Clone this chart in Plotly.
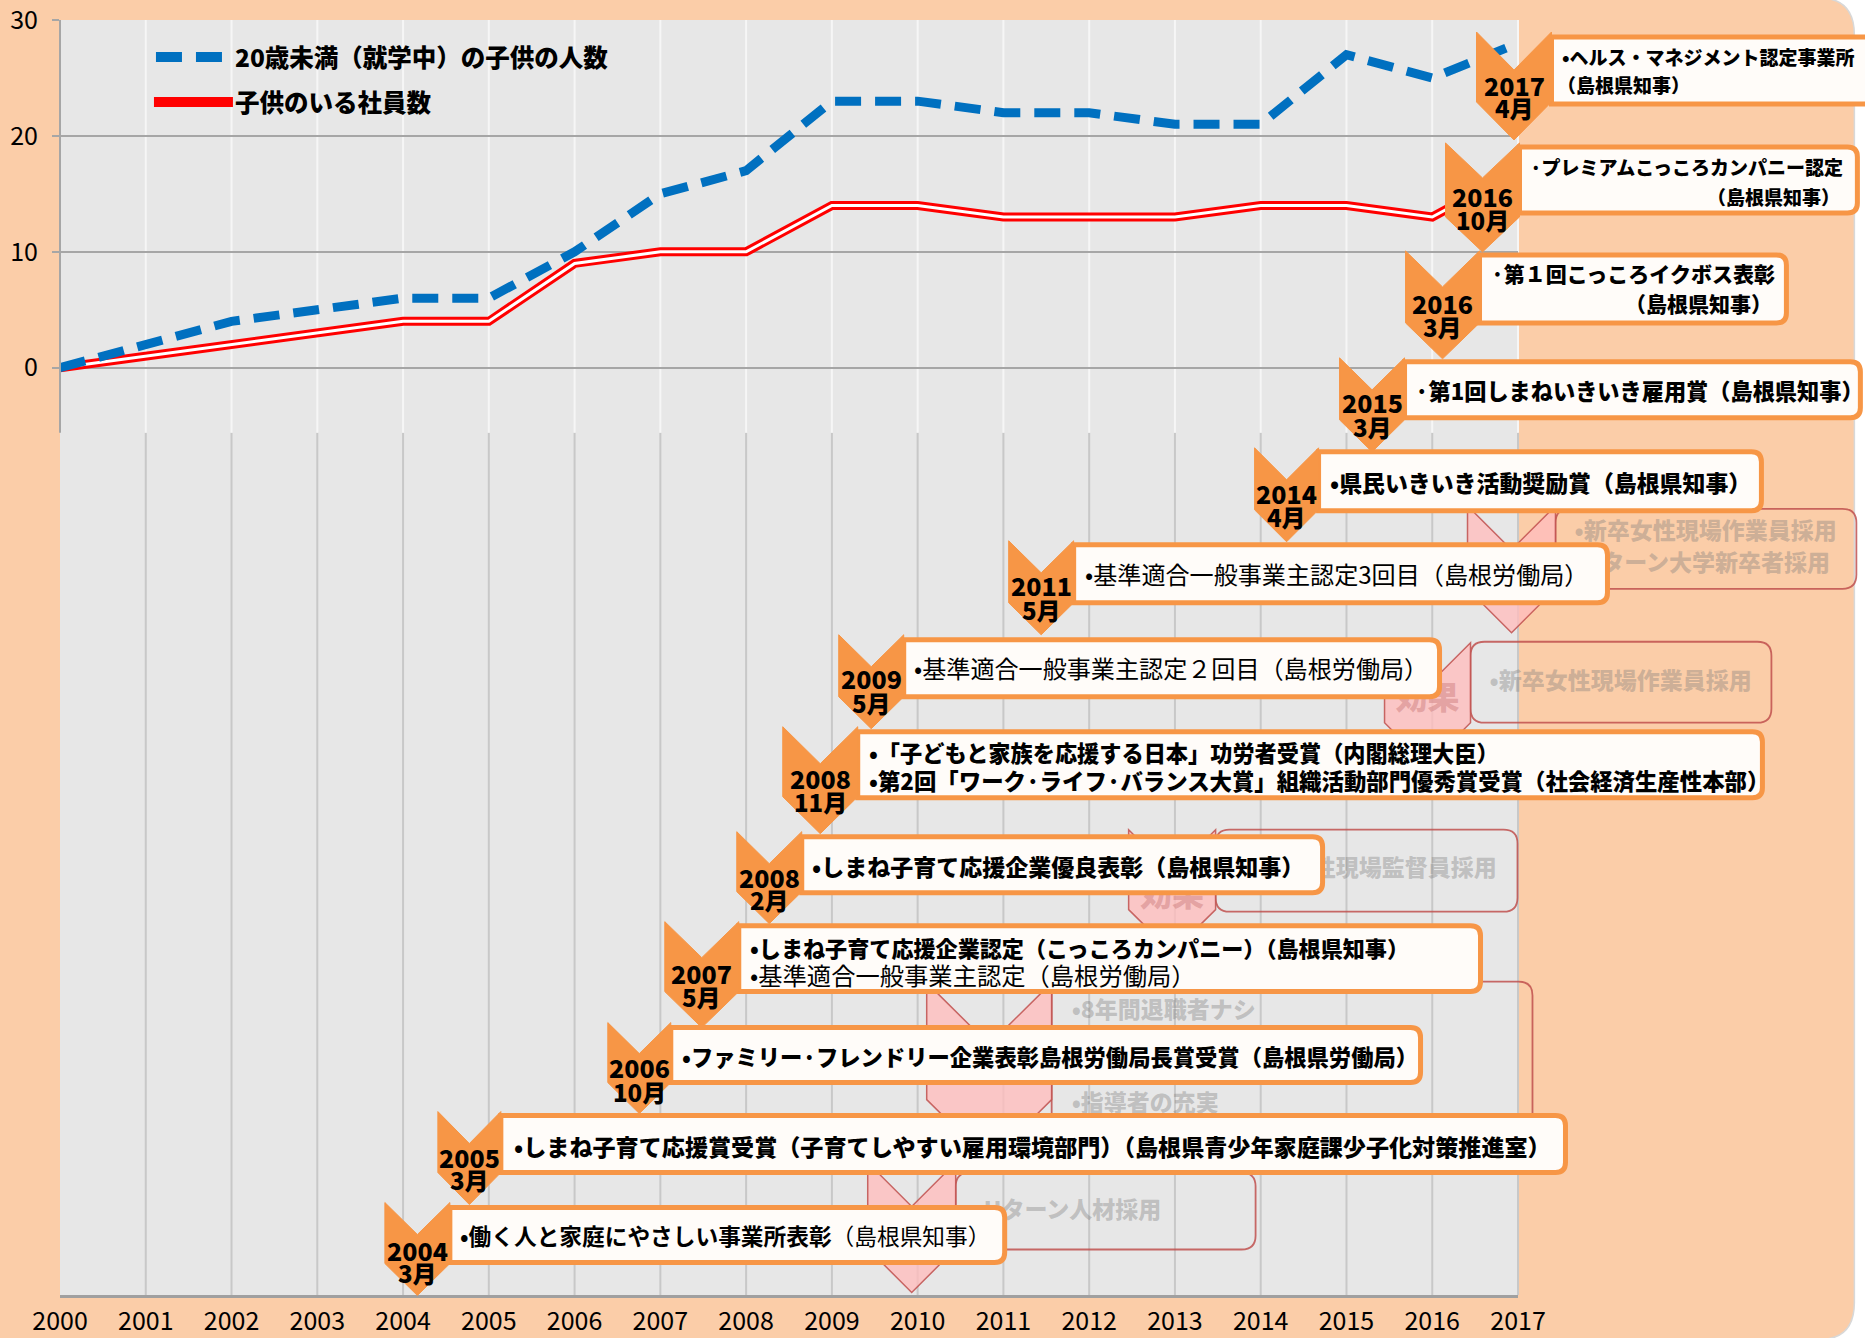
import plotly.graph_objects as go

# ---------------- data ----------------
years = list(range(2000, 2018))
children_under_20 = [0, 2, 4, 5, 6, 6, 10, 15, 17, 23, 23, 22, 22, 21, 21, 27, 25, 28]
employees_with_children = [0, 1, 2, 3, 4, 4, 9, 10, 10, 14, 14, 13, 13, 13, 14, 14, 13, 17]
y_tick_values = [0, 10, 20, 30]
x_tick_labels = [str(y) for y in years]
series_names = ["20歳未満（就学中）の子供の人数", "子供のいる社員数"]

award_year_labels = ["2017", "2016", "2016", "2015", "2014", "2011", "2009",
                     "2008", "2008", "2007", "2006", "2005", "2004"]
award_month_labels = ["4月", "10月", "3月", "3月", "4月", "5月", "5月",
                      "11月", "2月", "5月", "10月", "3月", "3月"]
award_lines = [
    ["•ヘルス・マネジメント認定事業所", "（島根県知事）"],
    ["·プレミアムこっころカンパニー認定", "（島根県知事）"],
    ["·第１回こっころイクボス表彰", "（島根県知事）"],
    ["·第1回しまねいきいき雇用賞（島根県知事）"],
    ["•県民いきいき活動奨励賞（島根県知事）"],
    ["•基準適合一般事業主認定3回目（島根労働局）"],
    ["•基準適合一般事業主認定２回目（島根労働局）"],
    ["•「子どもと家族を応援する日本」功労者受賞（内閣総理大臣）",
     "•第2回「ワーク·ライフ·バランス大賞」組織活動部門優秀賞受賞（社会経済生産性本部）"],
    ["•しまね子育て応援企業優良表彰（島根県知事）"],
    ["•しまね子育て応援企業認定（こっころカンパニー）（島根県知事）",
     "•基準適合一般事業主認定（島根労働局）"],
    ["•ファミリー·フレンドリー企業表彰島根労働局長賞受賞（島根県労働局）"],
    ["•しまね子育て応援賞受賞（子育てしやすい雇用環境部門）（島根県青少年家庭課少子化対策推進室）"],
    ["•働く人と家庭にやさしい事業所表彰", "（島根県知事）"],
]

effect_label = "効果"
effect_lines = [
    ["•新卒女性現場作業員採用", "•Uターン大学新卒者採用"],
    ["•新卒女性現場作業員採用"],
    ["•新卒女性現場監督員採用"],
    ["•8年間退職者ナシ", "•指導者の充実"],
    ["•Uターン人材採用"],
]

# ---------------- layout geometry (pixels) ----------------
FIG_W, FIG_H = 1865, 1338
PL, PR, PT, PB = 60.0, 1518.5, 20.0, 1295.5
PW, PH = PR - PL, PB - PT
Y_MIN, Y_MAX = -80, 30
UPPER_BOTTOM = -5.6

PEACH = "#FBCDA8"
PLOT_BG = "#E7E7E7"
ORANGE = "#F79646"
BOX_FILL = "#FFFCF9"
NARROW = "Liberation Sans Narrow, Arial Narrow, Noto Sans CJK JP, sans-serif"
JP = "Noto Sans CJK JP, sans-serif"
HEAVY = 900


def fx(x):
    return (x - PL) / PW


def fy(y):
    return 1 - (y - PT) / PH


def P(x, y):
    return f"{fx(x):.6f},{fy(y):.6f}"


def poly_path(pts):
    return "M" + " L".join(P(x, y) for x, y in pts) + " Z"


def rrect_path(x0, y0, x1, y1, rl, rr):
    return (f"M{P(x0 + rl, y0)} L{P(x1 - rr, y0)} Q{P(x1, y0)} {P(x1, y0 + rr)} "
            f"L{P(x1, y1 - rr)} Q{P(x1, y1)} {P(x1 - rr, y1)} L{P(x0 + rl, y1)} "
            f"Q{P(x0, y1)} {P(x0, y1 - rl)} L{P(x0, y0 + rl)} Q{P(x0, y0)} {P(x0 + rl, y0)} Z")


def chevron_pts(L, W, T, H, D):
    C = L + W / 2
    R = L + W
    return [(L, T), (C, T + D), (R, T), (R, T + H), (C, T + H + D), (L, T + H)]


# award callouts: chevron L, W, T, H, D ; box x1, y0, y1 ; year y, month y
award_geom = [
    (1477, 75, 32, 70, 38, 1880, 37, 104, 85, 108),
    (1446, 74, 143, 74, 35, 1858, 147, 213, 196, 220),
    (1406, 74, 251, 72, 36, 1787, 255, 323, 303, 327),
    (1340, 65, 358, 62, 32, 1861, 362, 418, 402, 427),
    (1255, 64, 448, 62, 32, 1762, 452, 511, 493, 517),
    (1009, 65, 541, 62, 32, 1608, 545, 603, 585, 610),
    (839, 65, 635, 62, 32, 1440, 640, 697, 678, 703),
    (783, 75, 727, 70, 37, 1763, 732, 798, 778, 802),
    (737, 65, 832, 60, 32, 1323, 837, 893, 877, 900),
    (665, 74, 922, 70, 36, 1481, 926, 992, 973, 997),
    (608, 63, 1023, 60, 31, 1421, 1028, 1083, 1067, 1092),
    (438, 63, 1112, 61, 32, 1566, 1116, 1173, 1157, 1180),
    (385, 65, 1203, 61, 32, 1005, 1208, 1263, 1250, 1273),
]
# text line placement: (x, y, anchor, size, weight)
award_text_geom = [
    [(1561, 57, "left", 19, "b"), (1556, 85, "left", 19, "b")],
    [(1529, 167, "left", 19, "b"), (1843, 197, "right", 19, "b")],
    [(1489, 273, "left", 21, "b"), (1775, 303, "right", 21, "b")],
    [(1413, 390, "left", 22.2, "b")],
    [(1328, 482, "left", 22.9, "b")],
    [(1083, 574, "left", 24.1, "n")],
    [(912, 668, "left", 24.1, "n")],
    [(867, 752, "left", 22.2, "b"), (867, 780, "left", 22.4, "b")],
    [(810, 866, "left", 23, "b")],
    [(748, 947, "left", 22.1, "b"), (748, 975, "left", 24.3, "n")],
    [(680, 1056, "left", 22.3, "b")],
    [(512, 1146, "left", 23.1, "b")],
    [(458, 1236, "left", 22.7, "b"), (None, 1236, "inline", 22.7, "n")],
]

# effect (ghost) callouts; ly = position of the visible "効果" label (None = hidden)
effect_geom = [
    dict(L=1468, W=88, T=506, H=83, D=44, box=(1556, 509, 1857, 589), tx=1572, ty=[533, 565], ly=None),
    dict(L=1385, W=86, T=643, H=80, D=43, box=(1471, 642, 1772, 723), tx=1487, ty=[683], ly=700),
    dict(L=1129, W=87, T=830, H=80, D=43, box=(1216, 830, 1518, 912), tx=1232, ty=[870], ly=897),
    dict(L=927, W=125, T=983, H=117, D=62, box=(1052, 982, 1533, 1162), tx=1069,
         ty=[1012, 1105], ly=None),
    dict(L=868, W=88, T=1163, H=86, D=44, box=(956, 1173, 1256, 1250), tx=972, ty=[1212], ly=None),
]

fig = go.Figure()

# lines
fig.add_trace(go.Scatter(x=years, y=employees_with_children, mode="lines", name=series_names[1],
                         line=dict(color="#FF0000", width=9), showlegend=False, hoverinfo="skip"))
fig.add_trace(go.Scatter(x=years, y=employees_with_children, mode="lines", name=series_names[1],
                         line=dict(color="#FFFFFF", width=3), showlegend=False, hoverinfo="skip"))
fig.add_trace(go.Scatter(x=years, y=children_under_20, mode="lines", name=series_names[0],
                         line=dict(color="#0070C0", width=9, dash="26px,14px"),
                         showlegend=False, hoverinfo="skip"))

shapes = []
annotations = []


def ypaper(v):
    return (v - Y_MIN) / (Y_MAX - Y_MIN)


# right white margin with rounded peach corner
shapes.append(dict(type="path", xref="paper", yref="paper", layer="below",
                   path=f"M{P(1820, -2)} Q{P(1855, -2)} {P(1855, 35)} L{P(1855, 1303)} Q{P(1855, 1340)} {P(1820, 1340)} "
                        f"L{P(1870, 1345)} L{P(1870, -5)} Z",
                   fillcolor="#FFFFFF", line=dict(color="#D8D8D8", width=1.5)))

# vertical grid lines (lower gray, upper light)
for yr in years[1:]:
    xp = (yr - years[0]) / (years[-1] - years[0])
    shapes.append(dict(type="line", xref="paper", yref="paper", layer="below",
                       x0=xp, x1=xp, y0=0, y1=ypaper(UPPER_BOTTOM),
                       line=dict(color="#C8C8C8", width=2)))
    shapes.append(dict(type="line", xref="paper", yref="paper", layer="below",
                       x0=xp, x1=xp, y0=ypaper(UPPER_BOTTOM), y1=1,
                       line=dict(color="#F6F6F6", width=2)))
# left axis line of upper chart
shapes.append(dict(type="line", xref="paper", yref="paper", layer="above",
                   x0=0, x1=0, y0=ypaper(UPPER_BOTTOM), y1=1,
                   line=dict(color="#A6A6A6", width=2)))

# ghost "effect" callouts
for g, lines in zip(effect_geom, effect_lines):
    x0, y0, x1, y1 = g["box"]
    shapes.append(dict(type="path", xref="paper", yref="paper", layer="above",
                       path=rrect_path(x0, y0, x1, y1, 14, 14),
                       fillcolor="rgba(0,0,0,0)", line=dict(color="rgba(192,80,77,0.85)", width=1.8)))
    shapes.append(dict(type="path", xref="paper", yref="paper", layer="above",
                       path=poly_path(chevron_pts(g["L"], g["W"], g["T"], g["H"], g["D"])),
                       fillcolor="rgba(255,188,188,0.78)", line=dict(color="rgba(192,80,77,0.85)", width=1.5)))
    cx = g["L"] + g["W"] / 2
    if g["ly"] is not None:
        shapes.append(dict(type="rect", xref="paper", yref="paper", layer="above",
                           x0=fx(cx - 1), x1=fx(cx + 1), y0=fy(g["ly"]), y1=fy(g["ly"]),
                           line=dict(width=0), fillcolor="rgba(0,0,0,0)",
                           label=dict(text=effect_label, textposition="middle center", padding=0,
                                      xanchor="center", yanchor="middle",
                                      font=dict(family=JP, size=32, weight=HEAVY,
                                                color="rgba(200,120,120,0.45)"))))
    for t, ty in zip(lines, g["ty"]):
        shapes.append(dict(type="rect", xref="paper", yref="paper", layer="above",
                           x0=fx(g["tx"]), x1=fx(g["tx"] + 2), y0=fy(ty), y1=fy(ty),
                           line=dict(width=0), fillcolor="rgba(0,0,0,0)",
                           label=dict(text=t, textposition="middle left", padding=0,
                                      xanchor="left", yanchor="middle",
                                      font=dict(family=JP, size=23, weight=HEAVY,
                                                color="rgba(120,120,120,0.36)"))))

# orange award callouts
for i, (g, tg, lines) in enumerate(zip(award_geom, award_text_geom, award_lines)):
    L, W, T, H, D, bx1, by0, by1, yy, my = g
    R = L + W
    shapes.append(dict(type="path", xref="paper", yref="paper", layer="above",
                       path=rrect_path(R, by0, bx1, by1, 0, 10),
                       fillcolor=BOX_FILL, line=dict(color=ORANGE, width=5)))
    shapes.append(dict(type="path", xref="paper", yref="paper", layer="above",
                       path=poly_path(chevron_pts(L, W, T, H, D)),
                       fillcolor=ORANGE, line=dict(color=ORANGE, width=1)))
    cx = L + W / 2
    annotations.append(dict(x=fx(cx), y=fy(yy), xref="paper", yref="paper", showarrow=False,
                            text=award_year_labels[i], xanchor="center", yanchor="middle",
                            font=dict(family=NARROW, size=25, weight=HEAVY, color="#000000")))
    annotations.append(dict(x=fx(cx), y=fy(my), xref="paper", yref="paper", showarrow=False,
                            text=award_month_labels[i], xanchor="center", yanchor="middle",
                            font=dict(family=NARROW, size=24, weight=HEAVY, color="#000000")))
    if tg[-1][2] == "inline":
        x, y, anc, size, w = tg[0]
        txt = f"<b>{lines[0]}</b>{lines[1]}"
        annotations.append(dict(x=fx(x), y=fy(y), xref="paper", yref="paper", showarrow=False,
                                text=txt, xanchor="left", yanchor="middle",
                                font=dict(family=JP, size=size, color="#000000")))
    else:
        for (x, y, anc, size, w), t in zip(tg, lines):
            annotations.append(dict(x=fx(x), y=fy(y), xref="paper", yref="paper", showarrow=False,
                                    text=t, xanchor=anc, yanchor="middle",
                                    font=dict(family=JP, size=size, color="#000000",
                                              weight=HEAVY if w == "b" else 400)))

# custom legend
shapes.append(dict(type="line", xref="paper", yref="paper", layer="above",
                   x0=fx(156), x1=fx(223), y0=fy(57), y1=fy(57),
                   line=dict(color="#0070C0", width=10, dash="26px,14px")))
shapes.append(dict(type="line", xref="paper", yref="paper", layer="above",
                   x0=fx(154), x1=fx(233), y0=fy(102), y1=fy(102),
                   line=dict(color="#FF0000", width=10)))
for name, ly in zip(series_names, [57, 102]):
    annotations.append(dict(x=fx(233), y=fy(ly), xref="paper", yref="paper", showarrow=False,
                            text=name, xanchor="left", yanchor="middle",
                            font=dict(family=JP, size=24.5, weight=HEAVY, color="#000000")))

fig.update_layout(
    template="none",
    width=FIG_W, height=FIG_H, autosize=False,
    margin=dict(l=PL, r=FIG_W - PR, t=PT, b=FIG_H - PB, pad=0, autoexpand=False),
    paper_bgcolor=PEACH, plot_bgcolor=PLOT_BG,
    font=dict(family=JP, color="#000000"),
    showlegend=False,
    shapes=shapes, annotations=annotations,
    xaxis=dict(range=[years[0], years[-1]], tickvals=years, ticktext=x_tick_labels,
               showgrid=False, zeroline=False, showline=True, linecolor="#A0A0A0", linewidth=3,
               ticks="", ticklabelstandoff=2, automargin=False, ticklabeloverflow="allow",
               tickfont=dict(family=NARROW, size=25, color="#000000")),
    yaxis=dict(range=[Y_MIN, Y_MAX], tickvals=y_tick_values, ticktext=[str(v) for v in y_tick_values],
               showgrid=True, gridcolor="#A6A6A6", gridwidth=2, zeroline=False, showline=False,
               ticks="outside", ticklen=7, tickwidth=2, tickcolor="#A6A6A6", ticklabelstandoff=9,
               automargin=False, ticklabeloverflow="allow",
               tickfont=dict(family=NARROW, size=25, color="#000000")),
)

fig.write_html("out.html", config={"displayModeBar": False},
               post_script="document.body.style.margin='0';document.body.style.overflow='hidden';")
